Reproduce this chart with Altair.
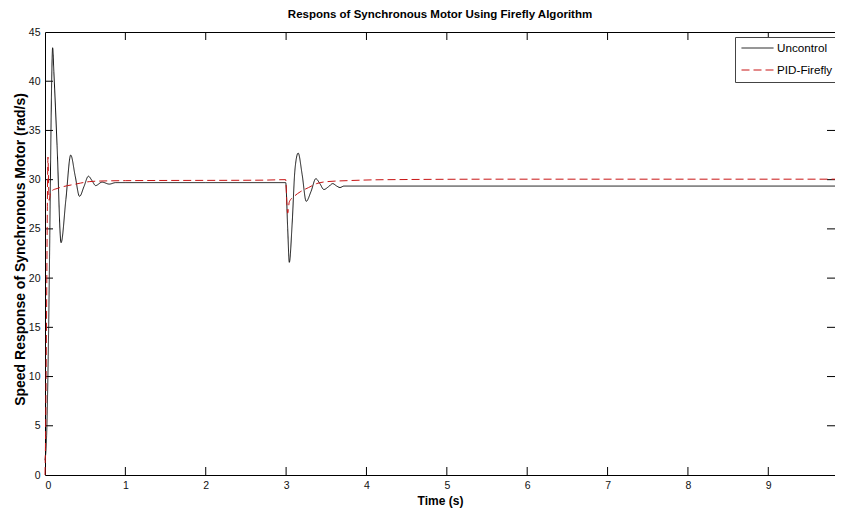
import altair as alt
import pandas as pd

# ---------------- data ----------------
series_names = ["Uncontrol", "PID-Firefly"]

t_uncontrol = [0.0, 0.02, 0.04, 0.055, 0.07, 0.083, 0.095, 0.11, 0.15, 0.2, 0.26, 0.32,
               0.375, 0.43, 0.485, 0.54, 0.585, 0.63, 0.71, 0.8, 0.88, 1.0, 2.0, 2.995,
               3.02, 3.04, 3.075, 3.11, 3.15, 3.2, 3.25, 3.31, 3.37, 3.42, 3.47, 3.53,
               3.58, 3.63, 3.67, 3.72, 5.0, 10.0]
v_uncontrol = [1.5, 4.0, 12.0, 21.0, 32.0, 40.0, 43.4, 41.0, 33.5, 23.6, 28.0, 32.5,
               30.4, 28.3, 29.3, 30.35, 29.9, 29.4, 29.75, 29.55, 29.7, 29.7, 29.7, 29.7,
               25.0, 21.6, 25.5, 31.0, 32.7, 30.5, 27.8, 28.8, 30.1, 29.6, 29.0, 29.3,
               29.6, 29.35, 29.2, 29.35, 29.35, 29.35]

t_pid = [0.0, 0.01, 0.02, 0.03, 0.037, 0.045, 0.052, 0.065, 0.09, 0.15, 0.23, 0.35,
         0.44, 0.55, 0.65, 1.0, 2.7, 2.995, 3.01, 3.02, 3.04, 3.1, 3.175, 3.28, 3.38,
         3.51, 3.76, 4.25, 5.7, 10.0]
v_pid = [0.0, 6.0, 17.0, 28.0, 32.3, 29.5, 27.9, 28.5, 28.9, 29.1, 29.3, 29.5,
         29.65, 29.8, 29.85, 29.9, 29.95, 30.0, 27.5, 26.6, 27.75, 28.3, 28.76, 29.2, 29.6,
         29.8, 29.9, 30.0, 30.05, 30.05]

x_tick_values = [0, 1, 2, 3, 4, 5, 6, 7, 8, 9]
y_tick_values = [0, 5, 10, 15, 20, 25, 30, 35, 40, 45]

title_text = "Respons of Synchronous Motor Using Firefly Algorithm"
x_title = "Time (s)"
y_title = "Speed Response of Synchronous Motor (rad/s)"

# ---------------- tables ----------------
df = pd.concat([
    pd.DataFrame({"t": t_uncontrol, "v": v_uncontrol, "series": series_names[0]}),
    pd.DataFrame({"t": t_pid, "v": v_pid, "series": series_names[1]}),
], ignore_index=True)

xt_df = pd.DataFrame({"t": x_tick_values[1:]})
yt_df = pd.DataFrame({"v": y_tick_values[1:-1]})

W, H = 790, 443
TL = 8
FONT = "Liberation Sans, Arial, sans-serif"

xscale = alt.Scale(domain=[0, 9.83], nice=False, zero=False)
yscale = alt.Scale(domain=[0, 45], nice=False, zero=False)

color_scale = alt.Scale(domain=series_names, range=["#111111", "#c81414"])
dash_scale = alt.Scale(domain=series_names, range=[[1, 0], [8, 4]])

x_axis = alt.Axis(values=x_tick_values, title=x_title, tickSize=0, domain=False, grid=False,
                  labelPadding=5, titlePadding=5, format="d",
                  titleFontSize=12)
y_axis = alt.Axis(values=y_tick_values, title=y_title, tickSize=0, domain=False, grid=False,
                  labelPadding=5, format="d",
                  titleFontSize=14, titleX=-18, titleY=217)

base = alt.Chart(df)

def series_layer(name):
    return base.transform_filter(alt.datum.series == name).mark_line(
        strokeWidth=1, interpolate="monotone"
    ).encode(
        x=alt.X("t:Q", scale=xscale, axis=x_axis),
        y=alt.Y("v:Q", scale=yscale, axis=y_axis),
        color=alt.Color("series:N", scale=color_scale, title=None),
        strokeDash=alt.StrokeDash("series:N", scale=dash_scale, title=None),
    )

tick_color = "#000000"
ticks_bottom = alt.Chart(xt_df).mark_rule(color=tick_color, strokeWidth=1).encode(
    x=alt.X("t:Q", scale=xscale, axis=x_axis), y=alt.value(H), y2=alt.value(H - TL))
ticks_top = alt.Chart(xt_df).mark_rule(color=tick_color, strokeWidth=1).encode(
    x=alt.X("t:Q", scale=xscale, axis=x_axis), y=alt.value(0), y2=alt.value(TL))
ticks_left = alt.Chart(yt_df).mark_rule(color=tick_color, strokeWidth=1).encode(
    y=alt.Y("v:Q", scale=yscale, axis=y_axis), x=alt.value(0), x2=alt.value(TL))
ticks_right = alt.Chart(yt_df).mark_rule(color=tick_color, strokeWidth=1).encode(
    y=alt.Y("v:Q", scale=yscale, axis=y_axis), x=alt.value(W - TL), x2=alt.value(W))

chart = alt.layer(
    ticks_bottom, ticks_top, ticks_left, ticks_right,
    series_layer(series_names[0]), series_layer(series_names[1]),
).properties(
    width=W, height=H,
    autosize=alt.AutoSizeParams(type="none"),
    padding={"left": 37, "top": 24, "right": 0, "bottom": 33},
    title=alt.TitleParams(title_text, font=FONT, fontSize=11.5, fontWeight="bold",
                          color="#000", anchor="middle", offset=7),
).configure_view(
    stroke="#000", strokeWidth=1
).configure_axis(
    labelFont=FONT, labelFontSize=10.5, labelColor="#111",
    titleFont=FONT, titleFontWeight="bold", titleColor="#000",
).configure_legend(
    orient="none", legendX=690, legendY=5,
    strokeColor="#444", fillColor="#ffffff", padding=5,
    symbolType="stroke", symbolSize=1024, symbolStrokeWidth=1, symbolOffset=1,
    clipHeight=12, rowPadding=9, labelOffset=3,
    labelFont=FONT, labelFontSize=11.7, labelColor="#000",
)

chart.save("out.html", embed_options={"renderer": "svg", "actions": False})
